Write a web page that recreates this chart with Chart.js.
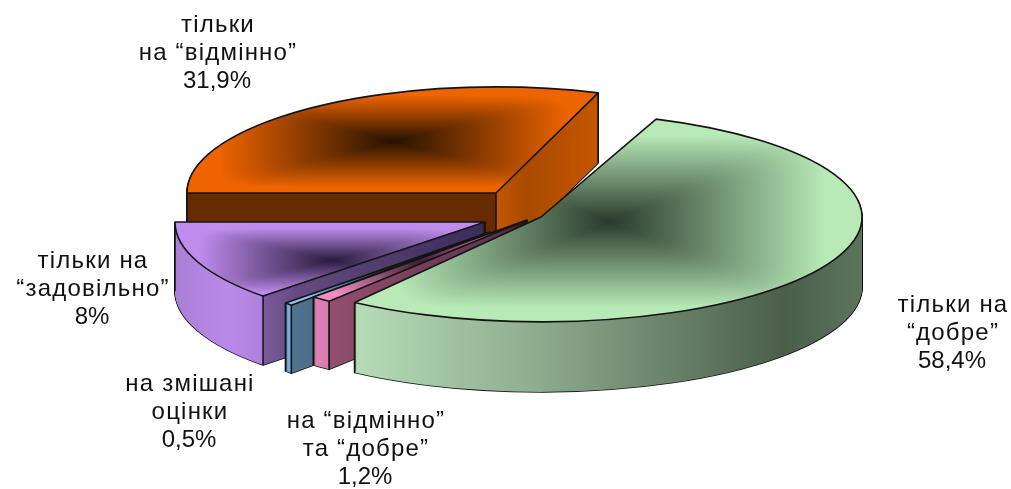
<!DOCTYPE html>
<html>
<head>
<meta charset="utf-8">
<style>
    html, body { margin: 0; padding: 0; background: #fff; }
    canvas { display: block; }
</style>
<script src="https://cdn.jsdelivr.net/npm/chart.js@4/dist/chart.umd.js"></script>
</head>
<body>
<canvas id="pieChart" width="1011" height="489"></canvas>
<script>
// clockwise from the top right
var categories = ['тільки на “добре”', 'на “відмінно” та “добре”', 'на змішані оцінки', 'тільки на “задовільно”', 'тільки на “відмінно”'];
var values = [58.4, 1.2, 0.5, 8, 31.9];
var valueLabels = ['58,4%', '1,2%', '0,5%', '8%', '31,9%'];
var categoryLines = [
    ['тільки на', '“добре”'],
    ['на “відмінно”', 'та “добре”'],
    ['на змішані', 'оцінки'],
    ['тільки на', '“задовільно”'],
    ['тільки', 'на “відмінно”']
];

// look of each slice, same order as the data
var shapes = [
    {dx: 35.5, dy: -27.5, sx: 1.313, sy: 0.429, scale: 0.925, shift: -1.87, depth: 70},
    {dx: 21.5, dy: -24.5, sx: 1.300, sy: 0.425, scale: 0.860, shift: -7.05, depth: 68},
    {dx: -15.5, dy: -12.5, sx: 1.145, sy: 0.425, scale: 0.940, shift: -4.4, depth: 68},
    {dx: -20.5, dy: -22.5, sx: 1.268, sy: 0.434, scale: 1.538, shift: 2.1, depth: 69},
    {dx: -9.5, dy: -51.5, sx: 1.264, sy: 0.434, scale: 0.952, shift: 7.07, depth: 70}
];
var topColors = [
    {dark: [42, 58, 44], light: [184, 234, 184]},
    {dark: [60, 28, 48], light: [240, 140, 192]},
    {dark: [22, 36, 50], light: [142, 192, 238]},
    {dark: [40, 28, 60], light: [192, 140, 238]},
    {dark: [38, 18, 0], light: [238, 100, 0]}
];
var wallStops = [
    [[355, '#b6dcb6'], [540, '#8eab8e'], [660, '#6c846c'], [785, '#4a5e4a'], [862, '#5c745c']],
    [[313, '#e084b8'], [327.5, '#d87cae'], [328.5, '#935070'], [353, '#8a4c6a'], [527, '#5a2c48']],
    [[286, '#80b4e2'], [291.5, '#78a8d6'], [292.5, '#507490'], [312, '#4c6e8a'], [490, '#1c3a48']],
    [[175, '#a97fd6'], [230, '#ba8ae8'], [263, '#ad80da'], [264, '#7b5a9a'], [300, '#63497f'], [485, '#3a2c58']],
    [[187, '#662c00'], [495.5, '#662c00'], [496.5, '#c45600'], [525, '#a84a00'], [598, '#c45600']]
];
var textPlaces = [
    {x: 953, y: 312},
    {x: 366, y: 428},
    {x: 190, y: 391},
    {x: 93, y: 268},
    {x: 218, y: 32}
];
var lineGap = 28;
var fullAt = 0.85;

function hexStops(ctx, stops) {
    var first = stops[0][0];
    var last = stops[stops.length - 1][0];
    var grad = ctx.createLinearGradient(first, 0, last, 0);
    stops.forEach(function (stop) {
        grad.addColorStop((stop[0] - first) / (last - first), stop[1]);
    });
    return grad;
}

// dark in the middle of the slice's box, square shaped with soft corners
function boxGradient(ctx, box, colors) {
    var w = Math.ceil(box.x1 - box.x0) + 1;
    var h = Math.ceil(box.y1 - box.y0) + 1;
    var off = document.createElement('canvas');
    off.width = w;
    off.height = h;
    var offCtx = off.getContext('2d');
    var img = offCtx.createImageData(w, h);
    for (var y = 0; y < h; y++) {
        for (var x = 0; x < w; x++) {
            var u = Math.abs(x - w / 2) / (w / 2);
            var v = Math.abs(y - h / 2) / (h / 2);
            var t = Math.pow(Math.pow(u, 8) + Math.pow(v, 8), 0.125);
            t = Math.min(1, t / fullAt);
            var i = (y * w + x) * 4;
            for (var c = 0; c < 3; c++) {
                img.data[i + c] = colors.dark[c] + (colors.light[c] - colors.dark[c]) * t;
            }
            img.data[i + 3] = 255;
        }
    }
    offCtx.putImageData(img, 0, 0);
    var pattern = ctx.createPattern(off, 'no-repeat');
    pattern.setTransform(new DOMMatrix().translate(box.x0, box.y0));
    return pattern;
}

var pie3d = {
    id: 'pie3d',
    beforeDatasetsDraw: function (chart) {
        var ctx = chart.ctx;
        var arcs = chart.getDatasetMeta(0).data;
        // back to front
        [4, 3, 2, 1, 0].forEach(function (i) {
            var arc = arcs[i];
            var shape = shapes[i];
            var mid = (arc.startAngle + arc.endAngle) / 2;
            var half = (arc.endAngle - arc.startAngle) / 2 * shape.scale;
            var shift = shape.shift * Math.PI / 180;
            var a0 = mid - half + shift;
            var a1 = mid + half + shift;
            var cx = arc.x + shape.dx;
            var cy = arc.y + shape.dy;
            var rx = arc.outerRadius * shape.sx;
            var ry = arc.outerRadius * shape.sy;

            var trace = function (down) {
                ctx.beginPath();
                ctx.moveTo(cx, cy + down);
                ctx.ellipse(cx, cy + down, rx, ry, 0, a0, a1);
                ctx.closePath();
            };

            var box = {x0: cx, x1: cx, y0: cy, y1: cy};
            for (var k = 0; k <= 60; k++) {
                var a = a0 + (a1 - a0) * k / 60;
                var px = cx + rx * Math.cos(a);
                var py = cy + ry * Math.sin(a);
                box.x0 = Math.min(box.x0, px);
                box.x1 = Math.max(box.x1, px);
                box.y0 = Math.min(box.y0, py);
                box.y1 = Math.max(box.y1, py);
            }

            ctx.save();
            ctx.lineJoin = 'round';
            ctx.strokeStyle = '#141414';
            ctx.lineWidth = 1.6;
            ctx.fillStyle = hexStops(ctx, wallStops[i]);
            for (var d = shape.depth; d > 0; d--) {
                trace(d);
                ctx.stroke();
            }
            for (d = shape.depth; d > 0; d--) {
                trace(d);
                ctx.fill();
            }
            [[cx, cy], [cx + rx * Math.cos(a0), cy + ry * Math.sin(a0)], [cx + rx * Math.cos(a1), cy + ry * Math.sin(a1)]].forEach(function (p) {
                ctx.beginPath();
                ctx.moveTo(p[0], p[1]);
                ctx.lineTo(p[0], p[1] + shape.depth);
                ctx.stroke();
            });
            trace(0);
            ctx.fillStyle = boxGradient(ctx, box, topColors[i]);
            ctx.fill();
            ctx.stroke();
            ctx.restore();
        });
        return false;
    },
    afterDraw: function (chart) {
        var ctx = chart.ctx;
        ctx.save();
        ctx.font = '24px "Liberation Sans", Arial, sans-serif';
        ctx.fillStyle = '#111';
        ctx.textAlign = 'center';
        ctx.textBaseline = 'alphabetic';
        categoryLines.forEach(function (lines, i) {
            var place = textPlaces[i];
            ctx.letterSpacing = '1.2px';
            lines.forEach(function (line, n) {
                ctx.fillText(line, place.x, place.y + n * lineGap);
            });
            ctx.letterSpacing = '0px';
            ctx.fillText(valueLabels[i], place.x - 1, place.y + lines.length * lineGap);
        });
        ctx.restore();
    }
};

var pieChart = new Chart(document.getElementById('pieChart').getContext('2d'), {
    type: 'pie',
    data: {
        labels: categories,
        datasets: [{data: values, borderWidth: 0}]
    },
    options: {
        responsive: false,
        animation: false,
        rotation: 15,
        plugins: {
            legend: {display: false},
            tooltip: {enabled: false}
        }
    },
    plugins: [pie3d]
});
</script>
</body>
</html>
